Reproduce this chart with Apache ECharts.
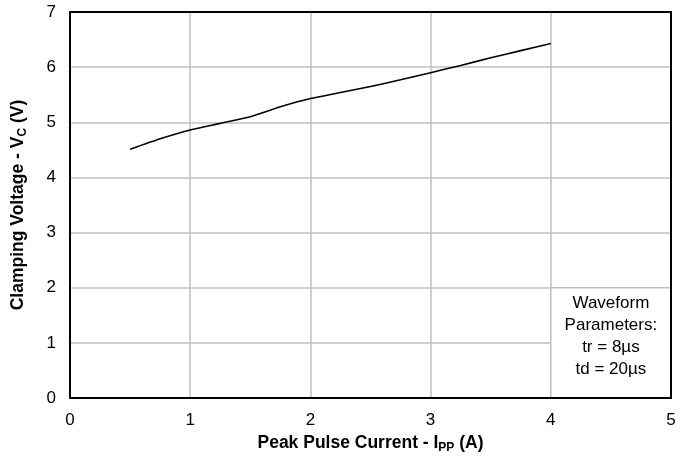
<!DOCTYPE html>
<html>
<head>
<meta charset="utf-8">
<script src="https://cdn.jsdelivr.net/npm/echarts@6/dist/echarts.min.js"></script>
<style>html,body{margin:0;padding:0;background:#fff;}#c{width:692px;height:460px;}</style>
</head>
<body>
<div id="c"></div>
<script>
var currentA = [0.5, 0.75, 1.0, 1.25, 1.5, 1.75, 2.0, 2.25, 2.5, 2.75, 3.0, 3.25, 3.5, 3.75, 4.0];
var clampV   = [4.51, 4.70, 4.86, 4.98, 5.10, 5.28, 5.43, 5.54, 5.65, 5.77, 5.90, 6.03, 6.17, 6.30, 6.43];
var xTicks = [0, 1, 2, 3, 4, 5];
var yTicks = [0, 1, 2, 3, 4, 5, 6, 7];
var noteText = 'Waveform\nParameters:\ntr = 8\u00b5s\ntd = 20\u00b5s';

var FONT = 'Arial, "Liberation Sans", sans-serif';
var chart = echarts.init(document.getElementById('c'));
var gridColor = '#c0c0c0';
var pts = currentA.map(function (x, i) { return [x, clampV[i]]; });
var subStyle = { fontSize: 12, fontWeight: 'bold', fontFamily: FONT, color: '#000', verticalAlign: 'bottom', padding: [10, 0, 0, 0] };

chart.setOption({
  animation: false,
  backgroundColor: '#fff',
  grid: { left: 70, right: 21, top: 12, bottom: 62 },
  xAxis: [{
    type: 'value', min: 0, max: 5, interval: 1, position: 'bottom', z: 10,
    axisLine: { show: true, onZero: false, lineStyle: { color: '#000', width: 2 } },
    axisTick: { show: false },
    splitLine: { show: false },
    axisLabel: { color: '#000', fontSize: 17, fontFamily: FONT, margin: 14 },
    name: 'Peak Pulse Current - I{sub|PP} (A)',
    nameLocation: 'middle', nameGap: 30,
    nameTextStyle: { color: '#000', fontSize: 17.5, fontWeight: 'bold', fontFamily: FONT, rich: { sub: subStyle } }
  }, {
    type: 'value', min: 0, max: 5, interval: 1, position: 'top', z: 10,
    axisLine: { show: true, onZero: false, lineStyle: { color: '#000', width: 2 } },
    axisTick: { show: false }, axisLabel: { show: false },
    splitLine: { show: false }
  }, {
    type: 'value', min: 0, max: 5, interval: 1, position: 'bottom', z: 0,
    axisLine: { show: false }, axisTick: { show: false }, axisLabel: { show: false },
    splitLine: { show: true, lineStyle: { color: gridColor, width: 1.5 } }
  }],
  yAxis: [{
    type: 'value', min: 0, max: 7, interval: 1, position: 'left', z: 10,
    axisLine: { show: true, onZero: false, lineStyle: { color: '#000', width: 2 } },
    axisTick: { show: false },
    splitLine: { show: false },
    axisLabel: { color: '#000', fontSize: 17, fontFamily: FONT, margin: 14 },
    name: 'Clamping Voltage - V{sub|C} (V)',
    nameLocation: 'middle', nameGap: 41,
    nameTextStyle: { color: '#000', fontSize: 17.5, fontWeight: 'bold', fontFamily: FONT, rich: { sub: subStyle } }
  }, {
    type: 'value', min: 0, max: 7, interval: 1, position: 'right', z: 10,
    axisLine: { show: true, onZero: false, lineStyle: { color: '#000', width: 2 } },
    axisTick: { show: false }, axisLabel: { show: false },
    splitLine: { show: false }
  }, {
    type: 'value', min: 0, max: 7, interval: 1, position: 'left', z: 0,
    axisLine: { show: false }, axisTick: { show: false }, axisLabel: { show: false },
    splitLine: { show: true, lineStyle: { color: gridColor, width: 1.5 } }
  }],
  series: [{
    type: 'line', data: pts, xAxisIndex: 0, yAxisIndex: 0,
    showSymbol: false, smooth: 0.2,
    lineStyle: { color: '#000', width: 1.6 },
    markArea: {
      silent: true,
      itemStyle: { color: '#fff', borderColor: gridColor, borderWidth: 1.5 },
      label: { show: true, position: 'inside', color: '#000', fontSize: 17, fontFamily: FONT,
        lineHeight: 22, align: 'center', offset: [0, -7] },
      data: [[{ coord: [4, 0], name: noteText }, { coord: [5, 2] }]]
    }
  }]
});
</script>
</body>
</html>
